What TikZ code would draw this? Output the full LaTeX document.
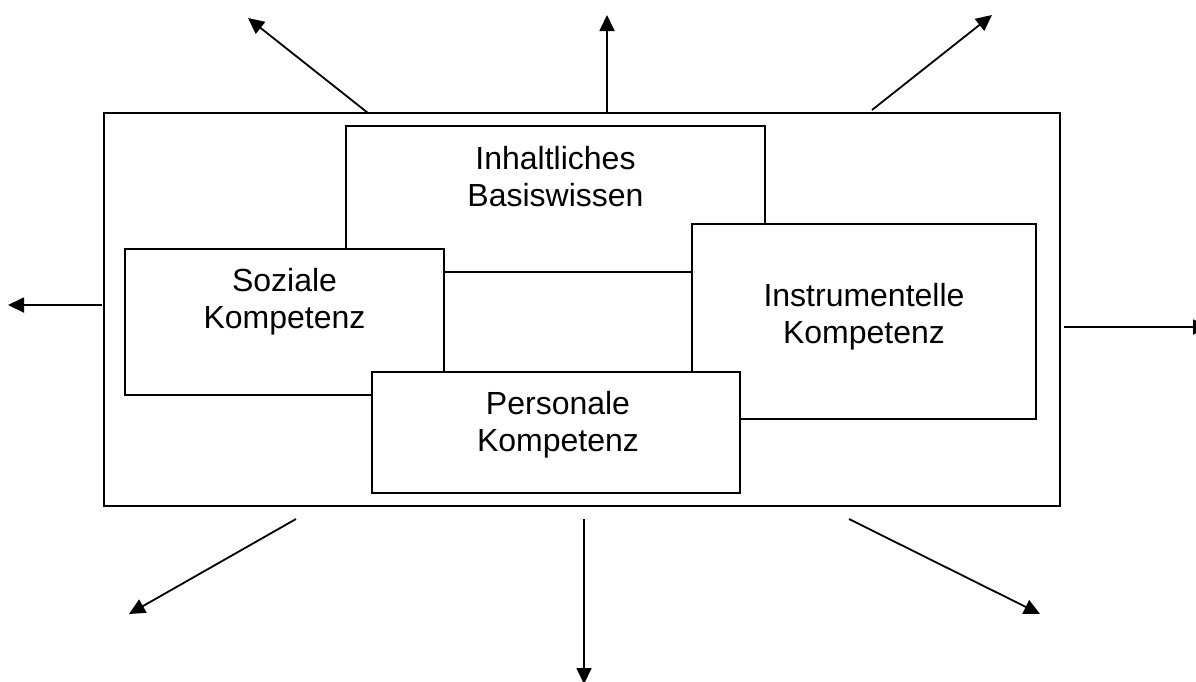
\documentclass[tikz,border=0pt]{standalone}
\usepackage{fontspec}
\setmainfont{Liberation Sans}
\usetikzlibrary{arrows.meta,positioning}

\begin{document}
\begin{tikzpicture}[x=1pt,y=-1pt,>={Triangle[length=16pt,width=15pt]},line width=1.8pt]
		\tikzstyle{kbox}=[rectangle, draw=black, fill=white, anchor=north west, inner sep=0pt, outer sep=0pt]
		\tikzstyle{beschrift}=[align=center, inner sep=0pt, font=\fontsize{32pt}{37.5pt}\selectfont]
		\tikzstyle{pfeil}=[->, line width=1.8pt]

		\path[use as bounding box, clip] (0,0) rectangle (1196,681);

		\node [kbox, minimum width=956pt, minimum height=393pt] (rahmen) at (104,113) {};
		\node [kbox, minimum width=419pt, minimum height=146pt] (inh) at (346,126) {};
		\node [kbox, minimum width=319pt, minimum height=146pt] (soz) at (125,249) {};
		\node [kbox, minimum width=344pt, minimum height=195pt] (instr) at (692,224) {};
		\node [kbox, minimum width=368pt, minimum height=121pt] (pers) at (372,372) {};

		\node [beschrift, below=19pt of inh.north] (inhtext) {Inhaltliches\\Basiswissen};
		\node [beschrift, below=18pt of soz.north] (soztext) {Soziale\\Kompetenz};
		\node [beschrift, below=58pt of instr.north] (instrtext) {Instrumentelle\\Kompetenz};
		\node [beschrift, below=18pt of pers.north, xshift=2pt] (perstext) {Personale\\Kompetenz};

		\foreach \name/\sx/\sy/\ex/\ey in {nw/368/113/248/18, n/607/113/607/15, no/872/110/992/15,
			w/102/305/8/305, o/1064/327/1209/327,
			sw/296/519/129/614, s/584/519/584/684, so/849/519/1040/614}
		{
			\coordinate (start-\name) at (\sx,\sy);
			\coordinate (ziel-\name) at (\ex,\ey);
			\draw [pfeil] (start-\name) -- (ziel-\name);
		}
	\end{tikzpicture}
\end{document}
